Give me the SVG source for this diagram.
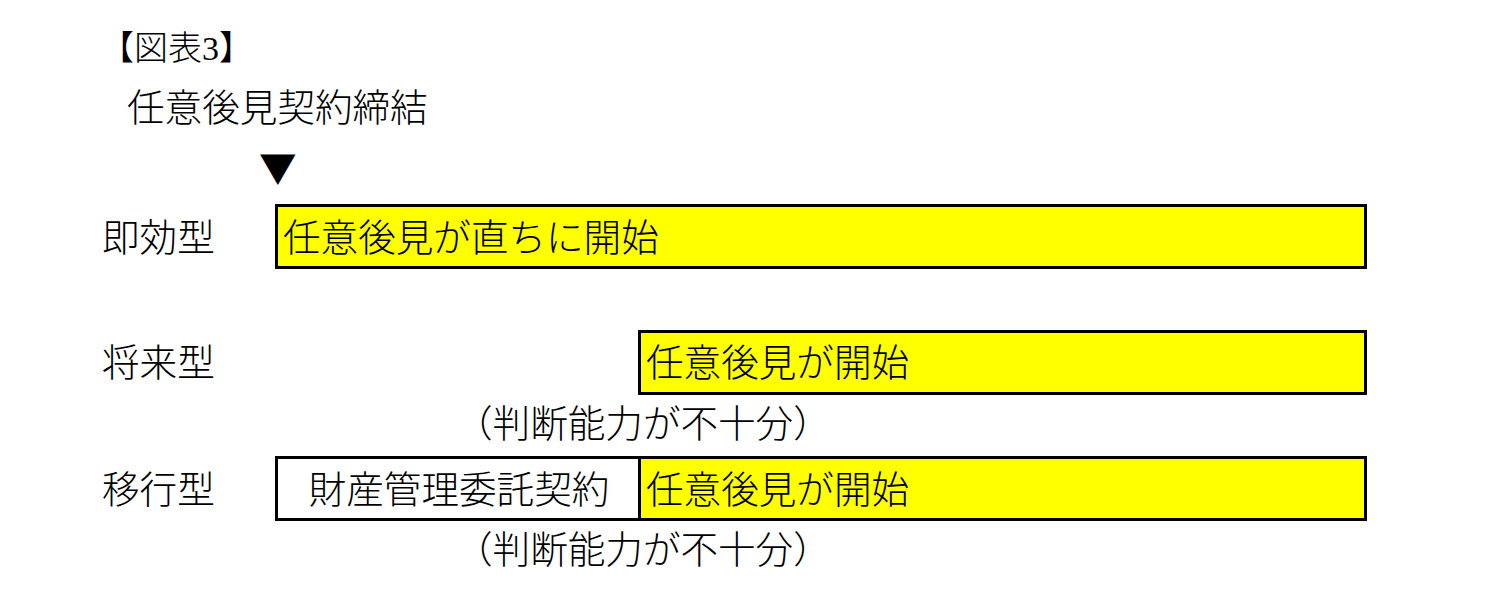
<svg xmlns="http://www.w3.org/2000/svg" width="1503" height="592" viewBox="0 0 1503 592">
<style>
.t{font-family:"Noto Sans CJK JP","Noto Sans CJK SC",sans-serif;font-size:37.6px;font-weight:300;fill:#000}
.ttl{font-family:"Liberation Serif","Noto Sans CJK JP",serif;font-size:34px;font-weight:300;fill:#000}
.box{stroke:#000;stroke-width:3}
.y{fill:#ffff00}
.w{fill:#fff}
</style>
<rect width="1503" height="592" fill="#fff"/>
<text class="ttl" x="100" y="60">【図表3】</text>
<g id="start">
<text class="t" x="127" y="121">任意後見契約締結</text>
<text class="t" x="259" y="182">▼</text>
</g>
<g id="sokko">
<text class="t" x="102" y="251">即効型</text>
<rect class="box y" x="276.5" y="205.5" width="1089" height="62"/>
<text class="t" x="283" y="251">任意後見が直ちに開始</text>
</g>
<g id="shorai">
<text class="t" x="102" y="376">将来型</text>
<rect class="box y" x="639.5" y="331.5" width="726" height="62"/>
<text class="t" x="646" y="376">任意後見が開始</text>
<text class="t" x="455" y="437">（判断能力が不十分）</text>
</g>
<g id="ikou">
<text class="t" x="102" y="503">移行型</text>
<rect class="box w" x="276.5" y="457.5" width="363" height="62"/>
<rect class="box y" x="639.5" y="457.5" width="726" height="62"/>
<text class="t" x="459" y="503" text-anchor="middle">財産管理委託契約</text>
<text class="t" x="646" y="503">任意後見が開始</text>
<text class="t" x="455" y="563">（判断能力が不十分）</text>
</g>
<g id="connectors"></g>
</svg>
